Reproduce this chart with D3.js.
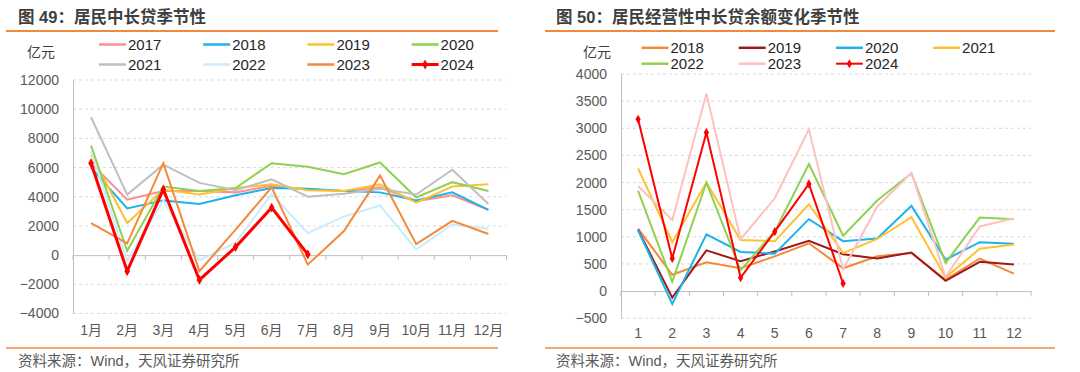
<!DOCTYPE html>
<html>
<head>
<meta charset="utf-8">
<script src="https://cdn.jsdelivr.net/npm/d3@7"></script>
<style>
  body { margin: 0; background: #fff; font-family: Arial, "Liberation Sans", "Noto Sans CJK SC", sans-serif; }
  svg text { font-family: Arial, "Liberation Sans", "Noto Sans CJK SC", sans-serif; }
</style>
</head>
<body>
<script>
// ---- left chart data (亿元) ----
let monthsL = ["1月","2月","3月","4月","5月","6月","7月","8月","9月","10月","11月","12月"];
let yearsL = ["2017","2018","2019","2020","2021","2022","2023","2024"];
let colorsL = ["#F89090","#1CB3EA","#FFC12E","#8FD150","#BFBFBF","#C9EDFB","#F5893A","#FF0000"];
let l2017 = [6300,3800,4400,4400,4300,4750,4500,4400,4650,3700,4100,3100];
let l2018 = [6000,3200,3750,3500,4100,4600,4550,4400,4300,3750,4300,3100];
let l2019 = [6900,2200,4500,4150,4600,4850,4450,4400,4850,3600,4700,4850];
let l2020 = [7500,300,4700,4400,4600,6300,6050,5550,6350,3950,5000,4400];
let l2021 = [9450,4150,6200,4950,4450,5200,4000,4200,4550,4150,5850,3500];
let l2022 = [7100,-400,3750,-350,850,4200,1500,2650,3400,400,2100,1800];
let l2023 = [2200,800,6300,-1100,1750,4650,-650,1650,5450,750,2350,1450];
let l2024 = [6300,-1100,4500,-1700,550,3250,50];
let ticksL = [-4000,-2000,0,2000,4000,6000,8000,10000,12000];

// ---- right chart data (亿元) ----
let monthsR = ["1","2","3","4","5","6","7","8","9","10","11","12"];
let yearsR = ["2018","2019","2020","2021","2022","2023","2024"];
let colorsR = ["#F5893A","#9E1A1A","#1CB3EA","#FFC12E","#8FD150","#FFC0C0","#FF0000"];
let r2018 = [1150,300,530,420,640,880,420,640,700,210,600,320];
let r2019 = [1130,-120,750,550,730,925,680,600,710,190,540,490];
let r2020 = [1120,-235,1045,720,690,1325,920,970,1570,580,900,870];
let r2021 = [2260,900,2000,940,920,1600,700,960,1360,250,780,860];
let r2022 = [1845,170,2000,385,1100,2340,1020,1670,2170,520,1355,1325];
let r2023 = [1935,1310,3635,955,1710,2980,400,1555,2180,260,1190,1340];
let r2024 = [3165,600,2920,245,1095,1975,140];
let ticksR = [-500,0,500,1000,1500,2000,2500,3000,3500,4000];

let svg = d3.select("body").append("svg").attr("width", 1080).attr("height", 372);

function panel(cfg) {
  let g = svg.append("g");

  g.append("text").attr("x", cfg.titleX).attr("y", 23)
    .attr("font-size", "16.5px").attr("font-weight", "bold").attr("fill", "#3F3F3F")
    .text(cfg.title);
  g.append("line").attr("x1", cfg.lineX1).attr("x2", cfg.lineX2).attr("y1", 31).attr("y2", 31)
    .attr("stroke", "#F5893A").attr("stroke-width", 2);
  g.append("line").attr("x1", cfg.lineX1).attr("x2", cfg.lineX2).attr("y1", 348).attr("y2", 348)
    .attr("stroke", "#F5893A").attr("stroke-width", 1.5);
  g.append("text").attr("x", cfg.titleX).attr("y", 366)
    .attr("font-size", "14.5px").attr("fill", "#595959")
    .text("资料来源：Wind，天风证券研究所");

  let x = d3.scaleBand().domain(cfg.months).range([cfg.x0, cfg.x1]);
  let y = d3.scaleLinear().domain(cfg.domain).range([cfg.yBottom, cfg.yTop]);

  // grid
  g.selectAll("line.grid").data(cfg.ticks.filter(d => d !== 0))
    .enter().append("line")
      .attr("class", "grid")
      .attr("x1", cfg.x0).attr("x2", cfg.x1)
      .attr("y1", d => y(d)).attr("y2", d => y(d))
      .attr("stroke", "#D9D9D9").attr("stroke-dasharray", "3,3");

  // y axis
  let yAxis = g.append("g").attr("transform", "translate(" + cfg.x0 + ",0)")
    .call(d3.axisLeft(y).tickValues(cfg.ticks).tickSize(0).tickPadding(14).tickFormat(d => d < 0 ? "\u2212" + Math.abs(d) : d));
  yAxis.select(".domain").attr("stroke", "#BFBFBF");
  yAxis.selectAll("text").attr("font-size", "14px").attr("fill", "#595959");

  // x axis at zero
  let xAxis = g.append("g").attr("transform", "translate(0," + y(0) + ")")
    .call(d3.axisBottom(x).tickSize(0).tickFormat(""));
  xAxis.select(".domain").attr("stroke", "#BFBFBF");
  g.selectAll("line.xtick").data(d3.range(cfg.months.length + 1))
    .enter().append("line")
      .attr("class", "xtick")
      .attr("x1", i => cfg.x0 + i * x.step()).attr("x2", i => cfg.x0 + i * x.step())
      .attr("y1", y(0)).attr("y2", y(0) + 5)
      .attr("stroke", "#BFBFBF");
  g.selectAll("text.xlab").data(cfg.months)
    .enter().append("text")
      .attr("class", "xlab")
      .attr("x", d => x(d) + x.bandwidth() / 2)
      .attr("y", cfg.labelY)
      .attr("text-anchor", "middle")
      .attr("font-size", "14px").attr("fill", "#595959")
      .text(d => d);

  let line = d3.line().x((d, i) => x(cfg.months[i]) + x.bandwidth() / 2).y(d => y(d));

  cfg.series.forEach(function(s, k) {
    let last = k === cfg.series.length - 1;
    g.append("path").datum(s)
      .attr("d", line)
      .attr("fill", "none")
      .attr("stroke", cfg.colors[k])
      .attr("stroke-width", last ? cfg.redWidth : 2)
      .attr("stroke-linejoin", "miter");
    if (last) {
      g.selectAll("path.mk").data(s).enter().append("path")
        .attr("class", "mk")
        .attr("transform", (d, i) => "translate(" + (x(cfg.months[i]) + x.bandwidth() / 2) + "," + y(d) + ")")
        .attr("d", d3.symbol().type(d3.symbolDiamond).size(cfg.markSize))
        .attr("fill", cfg.colors[k]);
    }
  });

  // legend
  g.append("text").attr("x", cfg.unitX).attr("y", 57)
    .attr("font-size", "14px").attr("fill", "#404040").text("亿元");
  cfg.years.forEach(function(yr, k) {
    let col = k % 4, row = Math.floor(k / 4);
    let lx = cfg.legX + col * cfg.legStep;
    let ly = cfg.legY[row];
    let last = k === cfg.years.length - 1;
    g.append("line").attr("x1", lx).attr("x2", lx + 27).attr("y1", ly).attr("y2", ly)
      .attr("stroke", cfg.colors[k]).attr("stroke-width", last ? cfg.redWidth : 2.5);
    if (last) {
      g.append("path").attr("transform", "translate(" + (lx + 13.5) + "," + ly + ")")
        .attr("d", d3.symbol().type(d3.symbolDiamond).size(cfg.markSize)).attr("fill", cfg.colors[k]);
    }
    g.append("text").attr("x", lx + 29).attr("y", ly + 5)
      .attr("font-size", "15px").attr("fill", "#262626").text(yr);
  });
}

panel({
  title: "图 49：居民中长贷季节性", titleX: 18, lineX1: 6, lineX2: 498,
  months: monthsL, years: yearsL, colors: colorsL,
  series: [l2017, l2018, l2019, l2020, l2021, l2022, l2023, l2024],
  domain: [-4000, 12000], ticks: ticksL,
  x0: 73, x1: 506.5, yTop: 80, yBottom: 313.5, labelY: 335,
  redWidth: 3, markSize: 28,
  unitX: 27, legX: 99, legStep: 104.2, legY: [44.5, 64.5]
});

panel({
  title: "图 50：居民经营性中长贷余额变化季节性", titleX: 556, lineX1: 545, lineX2: 1055,
  months: monthsR, years: yearsR, colors: colorsR,
  series: [r2018, r2019, r2020, r2021, r2022, r2023, r2024],
  domain: [-500, 4000], ticks: ticksR,
  x0: 621, x1: 1031, yTop: 74, yBottom: 318.2, labelY: 338,
  redWidth: 2, markSize: 24,
  unitX: 583, legX: 641.5, legStep: 97.2, legY: [47.8, 63.7]
});
</script>
</body>
</html>
